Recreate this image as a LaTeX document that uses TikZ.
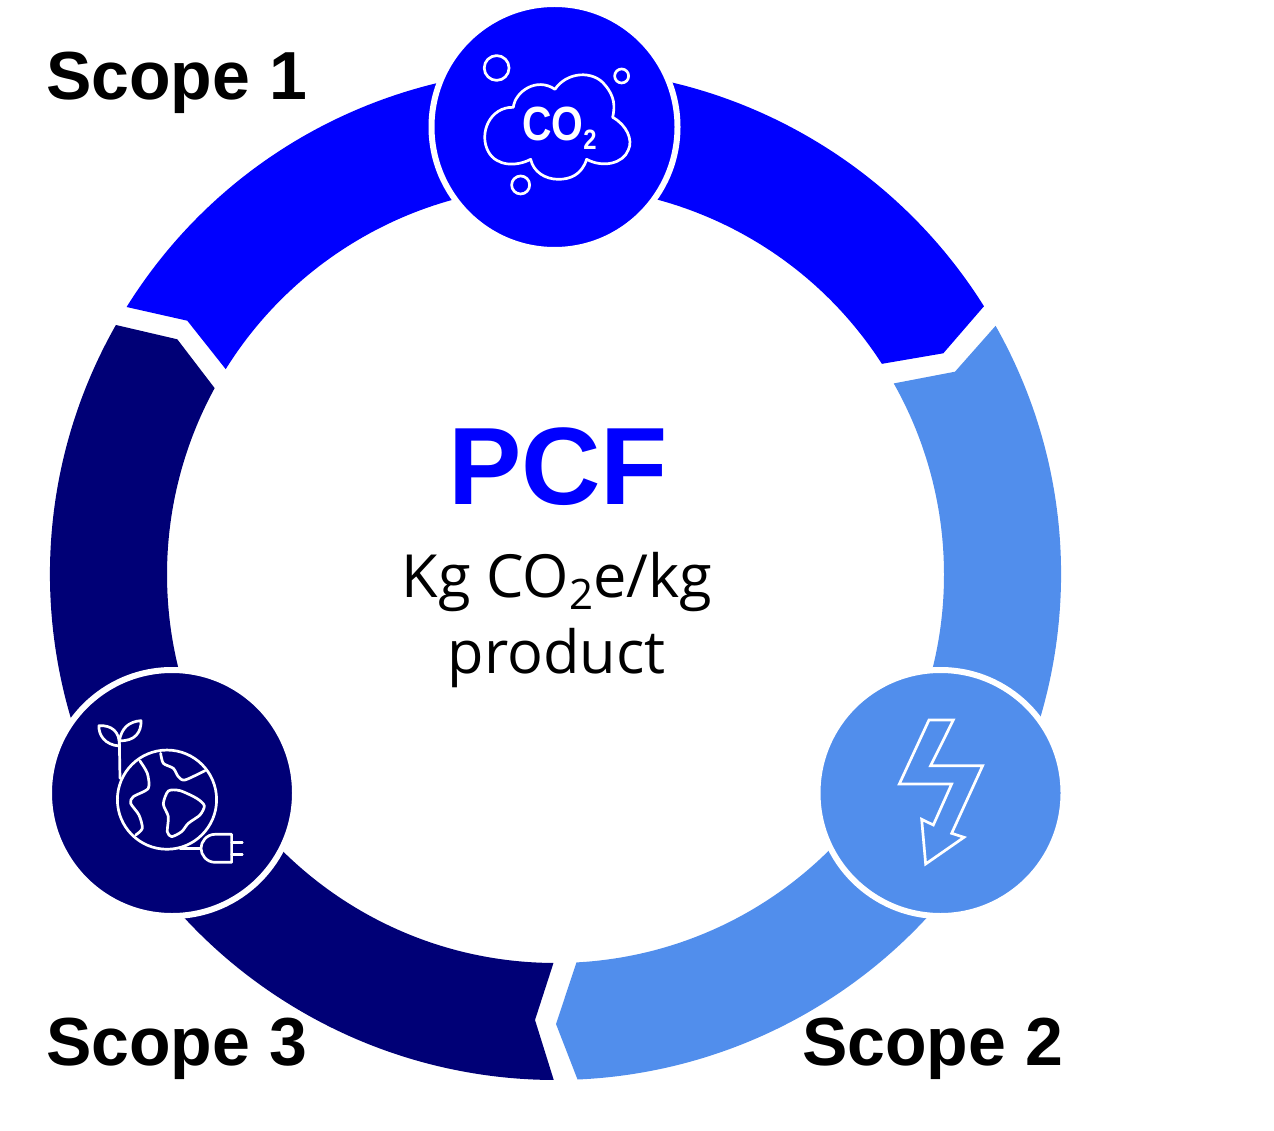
\documentclass[tikz,border=0pt]{standalone}
\usepackage{fontspec}
\usetikzlibrary{calc}
\setmainfont{Liberation Sans}
\newfontfamily\bodyfont{Open Sans}
\definecolor{scopeblue}{HTML}{0000FF}
\definecolor{scopenavy}{HTML}{000076}
\definecolor{scopelight}{HTML}{518EEC}
\tikzset{
  badge/.style={circle,inner sep=0pt,outer sep=0pt,minimum size=246pt,draw=white,line width=6pt},
  scopelabel/.style={anchor=base west,inner sep=0pt,font=\fontsize{68}{68}\selectfont\bfseries,text=black},
  icon/.style={draw=white,line width=2.7pt,line join=round,line cap=round},
}
\def\Rout{505.5}
\def\Rin{388.5}
\begin{document}
\begin{tikzpicture}[x=1pt,y=1pt]
\useasboundingbox (0,0) rectangle (1274,-1131);
\coordinate (c) at (555.5,-574.5);
% ring segments
\fill[scopeblue] ($(c)+(148.05:\Rout)$) arc[start angle=148.05,end angle=32.05,radius=\Rout]
  -- (943.3,-353.3) -- ($(c)+(32.84:\Rin)$) arc[start angle=32.84,end angle=148.09,radius=\Rin]
  -- (187.3,-320.7) -- cycle;
\fill[scopelight] ($(c)+(29.47:\Rout)$) arc[start angle=29.47,end angle=-87.5,radius=\Rout]
  -- (556,-1024) -- ($(c)+(-86.9:\Rin)$) arc[start angle=-86.9,end angle=29.46,radius=\Rin]
  -- (955,-371.7) -- cycle;
\fill[scopenavy] ($(c)+(150.42:\Rout)$) arc[start angle=150.42,end angle=269.8,radius=\Rout]
  -- (535,-1020) -- ($(c)+(269.7:\Rin)$) arc[start angle=269.7,end angle=151.33,radius=\Rin]
  -- (177.3,-339.3) -- cycle;
% badges
\node[badge,fill=scopeblue] (top) at (554.5,-127) {};
\node[badge,fill=scopenavy] (left) at (172,-793) {};
\node[badge,fill=scopelight] (right) at (940.5,-793) {};
% CO2 icon
\begin{scope}[shift={(430,0)},x=0.3333pt,y=-0.3333pt]
\draw[icon] (250,322) .. controls (255,275) and (320,230) .. (375,268)
  .. controls (410,215) and (490,210) .. (525,255)
  .. controls (555,290) and (555,320) .. (548,352)
  .. controls (590,375) and (610,420) .. (595,450)
  .. controls (580,490) and (520,505) .. (470,478)
  .. controls (455,525) and (420,538) .. (385,538)
  .. controls (345,538) and (310,515) .. (302,478)
  .. controls (260,500) and (200,500) .. (175,455)
  .. controls (145,400) and (180,320) .. (250,322) -- cycle;
\draw[icon] (200,204) circle[radius=12.4pt];
\draw[icon] (575,228) circle[radius=7pt];
\draw[icon] (272,555) circle[radius=9pt];
\node[text=white,inner sep=0pt,font=\fontsize{48}{48}\selectfont\bfseries,xscale=.85] (cotwo) at (388,385)
  {CO\raisebox{-9pt}{\fontsize{28}{28}\selectfont 2}};
\end{scope}
% globe icon
\begin{scope}[shift={(40,-660)},x=0.3333pt,y=-0.3333pt]
\draw[icon] (381,419) circle[radius=49.6pt];
\draw[icon] (240,355) -- (238,240);
\draw[icon] (238,258) .. controls (195,255) and (175,225) .. (177,197)
  .. controls (215,195) and (240,215) .. (238,258) -- cycle;
\draw[icon] (238,242) .. controls (245,205) and (265,185) .. (303,182)
  .. controls (305,215) and (285,245) .. (238,242) -- cycle;
\draw[icon] plot[smooth,tension=.45] coordinates {(300,303) (322,340) (325,385) (280,410) (272,430) (297,465) (307,505) (287,525)};
\draw[icon] plot[smooth,tension=.45] coordinates {(362,280) (370,310) (400,325) (415,350) (435,360) (495,332)};
\draw[icon] plot[smooth cycle,tension=.45] coordinates {(385,393) (420,392) (470,415) (493,437) (480,465) (445,490) (425,515) (395,530) (382,515) (385,470) (370,432)};
\draw[icon] (420,565) -- (482,565);
\draw[icon] (575,523) -- (525,523) .. controls (500,523) and (483,545) .. (483,565)
  .. controls (483,585) and (500,607) .. (525,607) -- (575,607) -- cycle;
\draw[icon] (575,548) -- (607,548);
\draw[icon] (575,583) -- (607,583);
\end{scope}
% bolt icon
\begin{scope}[shift={(810,-660)},x=0.3333pt,y=-0.3333pt]
\draw[icon,line join=miter] (357,180) -- (430,180) -- (362,317) -- (518,317) -- (425,520) -- (462,532)
  -- (347,612) -- (335,478) -- (370,495) -- (425,372) -- (268,372) -- cycle;
\end{scope}
% centre text
\node[anchor=base,inner sep=0pt,text=scopeblue,font=\fontsize{110}{110}\selectfont\bfseries] (pcf) at (558,-504) {PCF};
\node[anchor=base,inner sep=0pt,font=\bodyfont\fontsize{59.5}{59.5}\selectfont] (unit) at (557,-597)
  {Kg CO\raisebox{-12pt}{\fontsize{42}{42}\selectfont 2}e/kg};
\node[anchor=base,inner sep=0pt,font=\bodyfont\fontsize{59.5}{59.5}\selectfont] (prod) at (556.5,-673) {product};
% labels
\node[scopelabel] (s1) at (46,-100) {Scope 1};
\node[scopelabel] (s3) at (46,-1065) {Scope 3};
\node[scopelabel] (s2) at (802,-1065) {Scope 2};
\end{tikzpicture}
\end{document}
